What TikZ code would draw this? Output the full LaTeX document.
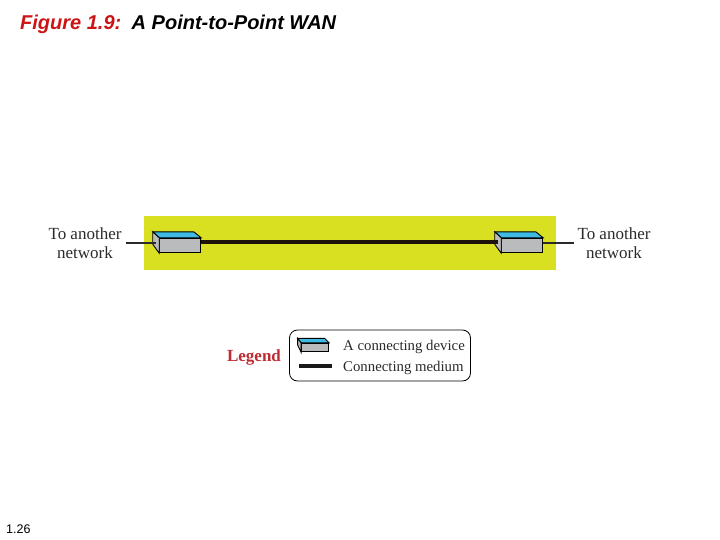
\documentclass[tikz,border=0pt]{standalone}
\usepackage{fontspec}
\setmainfont{Liberation Serif}
\newfontfamily\titlefont{Liberation Sans}
\usetikzlibrary{positioning}
\definecolor{wanyellow}{HTML}{D8E021}
\definecolor{devcyan}{HTML}{3FBBE3}
\definecolor{devgray}{HTML}{B9BBBC}
\definecolor{figred}{HTML}{CC1417}
\definecolor{legendred}{HTML}{BF2B33}
\definecolor{inkgray}{HTML}{2A2A2A}

\tikzstyle{netlabel} = [inner sep=0pt, text=inkgray, font=\fontsize{17}{19}\selectfont, align=center]
\tikzstyle{legendtext} = [inner sep=0pt, anchor=west, text=inkgray, font=\fontsize{14.8}{16}\selectfont]
\tikzstyle{headtext} = [inner sep=0pt, anchor=base west, font=\titlefont\bfseries\itshape\fontsize{20}{22}\selectfont]
\tikzstyle{thinlink} = [line width=1.8pt, inkgray]
\tikzstyle{thicklink} = [line width=4.6pt, black!85!brown]
\tikzstyle{devfront} = [draw=black, line width=0.9pt, fill=devgray, inner sep=0pt]

% #1 name, #2 centre of the front face, #3 width, #4 height, #5 depth x, #6 depth y
\newcommand{\device}[6]{
    \node[devfront, minimum width=#3pt, minimum height=#4pt] (#1) at (#2) {};
    \draw[line width=0.9pt, fill=devcyan] (#1.north west) -- ++(-#5,-#6) -- ++(#3,0) -- (#1.north east) -- cycle;
    \draw[line width=0.9pt, fill=devgray] (#1.north west) -- ++(-#5,-#6) -- ++(0,#4-2) -- (#1.south west) -- cycle;
}

\begin{document}
\begin{tikzpicture}[x=1pt, y=-1pt]
\useasboundingbox (0,0) rectangle (720,540);
%title
\node[headtext, text=figred] (figno) at (20,29.8) {Figure 1.9:};
\node[headtext, text=black, right=10pt of figno.base east, anchor=base west] (figname) {A Point-to-Point WAN};
\node[inner sep=0pt, anchor=base west, font=\titlefont\fontsize{12.5}{14}\selectfont] (pageno) at (6,533.5) {1.26};
%begin wan
\node[fill=wanyellow, minimum width=412pt, minimum height=53.5pt, inner sep=0pt] (wan) at (350,242.8) {};
\device{devA}{180.2,245.5}{41}{14.5}{6.5}{6}
\device{devB}{522.2,245.5}{41}{14.5}{6.5}{6}
\coordinate (outA) at (126,242.7);
\coordinate (outB) at (574,242.7);
\draw[thinlink] (outA) -- ([xshift=-3pt]devA.west |- outA);
\draw[thinlink] (devB.east |- outB) -- (outB);
\draw[thicklink] (devA.east |- 0,242) -- ([xshift=-3.5pt]devB.west |- 0,242);
\node[netlabel] (netA) at (85,243.5) {To another\\network};
\node[netlabel] (netB) at (614,243.5) {To another\\network};
%end wan
%begin legend
\node[draw=black, line width=0.8pt, rounded corners=8pt, minimum width=181pt, minimum height=51pt, inner sep=0pt] (legendbox) at (380,355.5) {};
\node[inner sep=0pt, text=legendred, font=\bfseries\fontsize{17}{19}\selectfont] (legendname) at (254,357) {Legend};
\device{devL}{315,347.5}{27}{8.5}{3.5}{4.5}
\coordinate (medL) at (299,366);
\coordinate (medR) at (332,366);
\draw[thicklink, black!90] (medL) -- (medR);
\node[legendtext] (devtext) at (343,347) {A connecting device};
\node[legendtext] (medtext) at (343,368) {Connecting medium};
%end legend
\end{tikzpicture}
\end{document}
